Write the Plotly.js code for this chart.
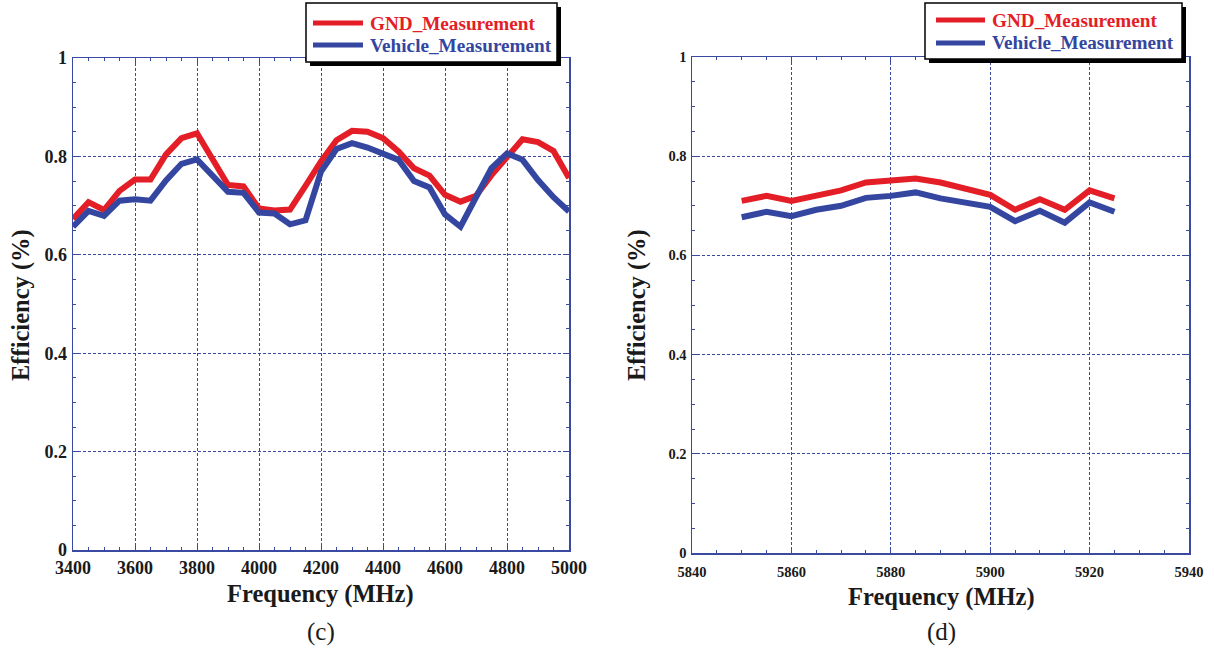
<!DOCTYPE html>
<html>
<head>
<meta charset="utf-8">
<script src="https://cdn.plot.ly/plotly-3.0.1.min.js"></script>
<style>html,body{margin:0;padding:0;background:#fff;}#chart{width:1214px;height:655px;}</style>
</head>
<body>
<div id="chart"></div>
<script>
// Panel (c)
const freqC = [3400,3450,3500,3550,3600,3650,3700,3750,3800,3850,3900,3950,4000,4050,4100,4150,4200,4250,4300,4350,4400,4450,4500,4550,4600,4650,4700,4750,4800,4850,4900,4950,5000];
const gndC = [0.673,0.707,0.691,0.730,0.753,0.753,0.804,0.837,0.847,0.793,0.742,0.739,0.694,0.690,0.692,0.740,0.790,0.833,0.852,0.850,0.837,0.810,0.776,0.761,0.722,0.708,0.720,0.762,0.800,0.835,0.829,0.811,0.756];
const vehC = [0.657,0.689,0.679,0.710,0.713,0.710,0.751,0.785,0.794,0.762,0.728,0.726,0.686,0.684,0.662,0.670,0.769,0.815,0.827,0.818,0.806,0.793,0.750,0.737,0.682,0.657,0.717,0.776,0.806,0.793,0.752,0.717,0.688];
// Panel (d)
const freqD = [5850,5855,5860,5865,5870,5875,5880,5885,5890,5895,5900,5905,5910,5915,5920,5925];
const gndD = [0.710,0.720,0.710,0.720,0.731,0.747,0.752,0.755,0.747,0.733,0.722,0.692,0.713,0.692,0.731,0.715];
const vehD = [0.677,0.688,0.679,0.692,0.700,0.716,0.720,0.727,0.715,0.706,0.698,0.669,0.690,0.666,0.707,0.688];
const seriesNames = ['GND_Measurement','Vehicle_Measurement'];
const xTicksC = [3400,3600,3800,4000,4200,4400,4600,4800,5000];
const xTicksD = [5840,5860,5880,5900,5920,5940];
const yTicks = [0,0.2,0.4,0.6,0.8,1];
const yTickText = ['0','0.2','0.4','0.6','0.8','1'];

const RED = '#e31e26';
const BLUE = '#3446a0';
const GRID = '#3a4aa3';
const INK = '#1a1a1a';
const W = 1214, H = 655;
const px = v => v / W;
const py = v => 1 - v / H;
const serif = 'Liberation Serif';

const traces = [
  {x: freqC, y: gndC, name: seriesNames[0], mode: 'lines', line: {color: RED, width: 6}, xaxis: 'x', yaxis: 'y'},
  {x: freqC, y: vehC, name: seriesNames[1], mode: 'lines', line: {color: BLUE, width: 6}, xaxis: 'x', yaxis: 'y'},
  {x: freqD, y: gndD, name: seriesNames[0], mode: 'lines', line: {color: RED, width: 6}, xaxis: 'x2', yaxis: 'y2'},
  {x: freqD, y: vehD, name: seriesNames[1], mode: 'lines', line: {color: BLUE, width: 6}, xaxis: 'x2', yaxis: 'y2'}
];

function axis(extra) {
  return Object.assign({
    showline: true, linecolor: GRID, linewidth: 1.5, mirror: 'ticks',
    ticks: 'inside', ticklen: 5, tickcolor: GRID, tickwidth: 1,
    showgrid: true, gridcolor: GRID, gridwidth: 1, griddash: '3px,2px',
    zeroline: false, fixedrange: true,
    tickfont: {family: serif, size: 18, color: INK, weight: 'bold'}
  }, extra);
}
const smallTick = {family: serif, size: 14.5, color: INK, weight: 'bold'};

// legend boxes (frame + shadow) and sample lines
const legends = [
  {box: [306, 3, 557, 62], lineX: [313, 363], textX: 368, rows: [23, 45]},
  {box: [925, 3, 1182, 59], lineX: [936, 985], textX: 990, rows: [20, 43]}
];
const shapes = [];
const annotations = [];
legends.forEach(L => {
  const [x0, y0, x1, y1] = L.box;
  shapes.push({type: 'rect', xref: 'paper', yref: 'paper', x0: px(x0 + 4), x1: px(x1 + 4), y0: py(y0 + 4), y1: py(y1 + 4), fillcolor: '#000', line: {width: 0}, layer: 'above'});
  shapes.push({type: 'rect', xref: 'paper', yref: 'paper', x0: px(x0), x1: px(x1), y0: py(y0), y1: py(y1), fillcolor: '#fff', line: {color: '#000', width: 1.5}, layer: 'above'});
  [RED, BLUE].forEach((c, i) => {
    shapes.push({type: 'line', xref: 'paper', yref: 'paper', x0: px(L.lineX[0]), x1: px(L.lineX[1]), y0: py(L.rows[i]), y1: py(L.rows[i]), line: {color: c, width: 5}, layer: 'above'});
    annotations.push({text: seriesNames[i], xref: 'paper', yref: 'paper', x: px(L.textX), y: py(L.rows[i]), xanchor: 'left', yanchor: 'middle', showarrow: false,
      font: {family: serif, size: 19.2, color: c, weight: 'bold'}});
  });
});

const titleFont = {family: serif, size: 24.5, color: INK, weight: 'bold'};
annotations.push(
  {text: 'Frequency (MHz)', xref: 'paper', yref: 'paper', x: px(321), y: py(594), xanchor: 'center', yanchor: 'middle', showarrow: false, font: titleFont},
  {text: 'Frequency (MHz)', xref: 'paper', yref: 'paper', x: px(942), y: py(597), xanchor: 'center', yanchor: 'middle', showarrow: false, font: titleFont},
  {text: 'Efficiency (%)', xref: 'paper', yref: 'paper', x: px(21), y: py(305), xanchor: 'center', yanchor: 'middle', showarrow: false, textangle: -90, font: titleFont},
  {text: 'Efficiency (%)', xref: 'paper', yref: 'paper', x: px(637), y: py(305), xanchor: 'center', yanchor: 'middle', showarrow: false, textangle: -90, font: titleFont},
  {text: '(c)', xref: 'paper', yref: 'paper', x: px(321), y: py(632), xanchor: 'center', yanchor: 'middle', showarrow: false, font: {family: serif, size: 25, color: INK}},
  {text: '(d)', xref: 'paper', yref: 'paper', x: px(942), y: py(632), xanchor: 'center', yanchor: 'middle', showarrow: false, font: {family: serif, size: 25, color: INK}}
);

const layout = {
  width: W, height: H,
  margin: {l: 0, r: 0, t: 0, b: 0},
  paper_bgcolor: '#fff', plot_bgcolor: '#fff',
  showlegend: false,
  xaxis: axis({domain: [px(73), px(569)], range: [3400, 5000], tickvals: xTicksC, ticktext: xTicksC.map(String), anchor: 'y', ticklabelstandoff: 1,
    minor: {ticks: 'inside', ticklen: 3, tickcolor: GRID, dtick: 50}}),
  yaxis: axis({domain: [py(550), py(58)], range: [0, 1], tickvals: yTicks, ticktext: yTickText, anchor: 'x', ticklabelstandoff: 1,
    minor: {ticks: 'inside', ticklen: 3, tickcolor: GRID, dtick: 0.05}}),
  xaxis2: axis({domain: [px(692), px(1189)], range: [5840, 5940], tickvals: xTicksD, ticktext: xTicksD.map(String), anchor: 'y2', ticklabelstandoff: 5,
    tickfont: smallTick, minor: {ticks: 'inside', ticklen: 3, tickcolor: GRID, dtick: 5}}),
  yaxis2: axis({domain: [py(553), py(57)], range: [0, 1], tickvals: yTicks, ticktext: yTickText, anchor: 'x2', ticklabelstandoff: 1,
    tickfont: smallTick, minor: {ticks: 'inside', ticklen: 3, tickcolor: GRID, dtick: 0.05}}),
  shapes: shapes,
  annotations: annotations
};

Plotly.newPlot('chart', traces, layout, {displayModeBar: false, staticPlot: true});
</script>
</body>
</html>
